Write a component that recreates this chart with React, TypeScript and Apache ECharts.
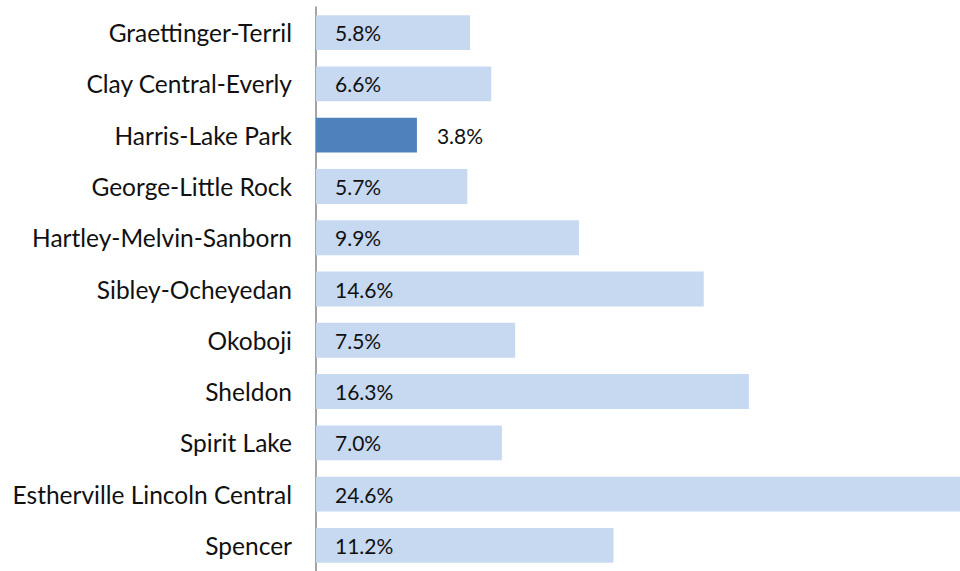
import React, { useEffect, useRef } from "react";
import * as echarts from "echarts";

const categories = [
  "Graettinger-Terril",
  "Clay Central-Everly",
  "Harris-Lake Park",
  "George-Little Rock",
  "Hartley-Melvin-Sanborn",
  "Sibley-Ocheyedan",
  "Okoboji",
  "Sheldon",
  "Spirit Lake",
  "Estherville Lincoln Central",
  "Spencer",
];
const values = [5.8, 6.6, 3.8, 5.7, 9.9, 14.6, 7.5, 16.3, 7.0, 24.6, 11.2];
const highlighted = "Harris-Lake Park";
const axisMax = 24.25;

export default function App() {
  const ref = useRef<HTMLDivElement>(null);
  useEffect(() => {
    if (!ref.current) return;
    const chart = echarts.init(ref.current, undefined, { renderer: "svg" });
    const font = "Lato, 'Open Sans', sans-serif";
    chart.setOption({
      animation: false,
      grid: { left: 316, top: 7, bottom: -6, right: 0, containLabel: false },
      xAxis: {
        type: "value",
        min: 0,
        max: axisMax,
        show: false,
      },
      yAxis: {
        type: "category",
        inverse: true,
        data: categories,
        axisLine: { show: true, lineStyle: { color: "#868686", width: 1.5 } },
        axisTick: { show: false },
        axisLabel: {
          margin: 24,
          fontFamily: font,
          fontSize: 24.5,
          color: "#111111",
        },
      },
      series: [
        {
          type: "bar",
          barCategoryGap: "32%",
          data: values.map((v, i) => {
            const hi = categories[i] === highlighted;
            return {
              value: v,
              itemStyle: { color: hi ? "#4F81BD" : "#C6D9F1" },
              label: hi
                ? { position: "right", distance: 20 }
                : { position: "insideLeft", distance: 19 },
            };
          }),
          label: {
            show: true,
            formatter: (p: any) => p.value.toFixed(1) + "%",
            fontFamily: font,
            fontSize: 21,
            color: "#111111",
          },
        },
      ],
    });
    return () => chart.dispose();
  }, []);
  return <div ref={ref} style={{ width: 960, height: 571, position: "absolute", left: 0, top: 0 }} />;
}
